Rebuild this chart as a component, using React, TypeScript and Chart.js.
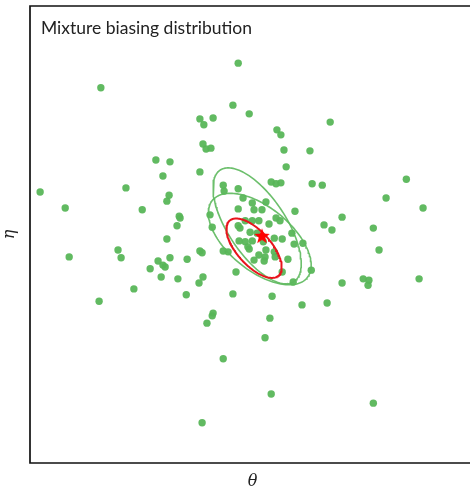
import React, { useEffect, useRef } from "react";
import { Chart, registerables } from "chart.js";

Chart.register(...registerables);

// Samples drawn from the mixture biasing distribution (θ, η)
const thetaSamples = [
  -0.27, -3.39, -0.39, -0.02, -1.14, -1.05, -0.84, 0.61, 0.70, 1.82,
  -1.07, -1.00, -0.89, 0.77, 1.36, -2.14, -1.82, 0.82, -1.14, -1.98,
  0.48, 0.59, 0.70, 1.41, 1.64, 3.55, -4.77, -2.82, -0.61, -0.59,
  -0.27, -1.84, -1.89, -0.16, 0.05, 0.36, 3.09, -4.20, -2.45, -0.27,
  0.09, 0.27, 1.02, 3.93, -0.91, -1.61, -1.59, 0.59, 0.68, 2.09,
  -0.11, 0.05, 0.20, -0.27, -0.23, 0.43, 1.68, -1.66, -0.86, 1.86,
  2.80, 0.00, 0.16, 0.95, -1.89, 0.55, 0.73, -0.25, -0.11, 0.05,
  0.30, 1.00, 1.20, -0.05, -0.02, -3.00, -2.93, -4.11, -1.14, -1.09,
  -0.61, -0.50, 0.36, 2.93, 0.55, 0.57, 0.20, 0.34, -1.82, -1.43,
  -2.09, -1.98, -1.93, 0.09, 0.32, 0.86, -2.27, -0.32, 0.73, 1.39,
  -2.02, -1.64, -1.07, -1.16, 2.57, 2.70, 2.68, 0.98, 2.09, 3.84,
  -2.64, -1.45, -0.39, 0.50, 1.18, 1.75, -3.43, -0.84, -0.86, -0.98,
  0.45, 0.34, -0.61, 0.48, 2.80, -1.09,
];
const etaSamples = [
  3.75, 3.21, 2.83, 2.64, 2.53, 2.40, 2.55, 2.29, 2.18, 2.46,
  1.98, 1.87, 1.89, 1.85, 1.83, 1.63, 1.59, 1.48, 1.37, 1.28,
  1.15, 1.11, 1.13, 1.11, 1.08, 1.21, 0.93, 1.02, 1.08, 0.95,
  1.00, 0.86, 0.73, 0.80, 0.69, 0.71, 0.80, 0.58, 0.54, 0.56,
  0.54, 0.54, 0.51, 0.58, 0.43, 0.40, 0.36, 0.36, 0.30, 0.38,
  0.30, 0.30, 0.30, 0.19, 0.14, 0.23, 0.21, 0.19, 0.16, 0.10,
  0.14, 0.05, 0.03, 0.03, -0.10, -0.08, -0.10, -0.14, -0.16, -0.14,
  -0.16, -0.21, -0.19, -0.27, -0.32, -0.34, -0.51, -0.49, -0.36, -0.40,
  -0.36, -0.38, -0.34, -0.34, -0.38, -0.49, -0.45, -0.49, -0.51, -0.54,
  -0.58, -0.67, -0.71, -0.56, -0.58, -0.54, -0.75, -0.82, -0.82, -0.78,
  -0.93, -0.97, -0.93, -1.06, -0.97, -1.00, -1.11, -1.04, -1.06, -0.97,
  -1.19, -1.32, -1.30, -1.35, -1.54, -1.50, -1.46, -1.72, -1.78, -1.94,
  -1.83, -2.26, -2.72, -3.49, -3.69, -4.12,
];

// Mode of the target (red star)
const modeTheta = [0.27];
const modeEta = [-0.03];

// Covariance ellipses: two mixture components (green) and the target (red)
const ellipseNames = ["component 1", "component 2", "target"];
const ellipseCenterTheta = [0.16, 0.22, 0.09];
const ellipseCenterEta = [0.19, -0.10, -0.30];
const ellipseSemiMajor = [1.48, 1.37, 0.82];
const ellipseSemiMinor = [0.65, 0.70, 0.38];
const ellipseAngleDeg = [-55, -37.4, -46.5];
const ellipseColors = ["rgba(92,184,92,0.9)", "rgba(92,184,92,0.9)", "#e8141c"];
const ellipseWidths = [1.6, 1.6, 2];

const axisRange = { thetaMin: -5, thetaMax: 5.11, etaMin: -5, etaMax: 5 };
const titleText = "Mixture biasing distribution";
const xLabel = "θ";
const yLabel = "η";

function ellipsePoints(i: number) {
  const pts: { x: number; y: number }[] = [];
  const a = ellipseSemiMajor[i];
  const b = ellipseSemiMinor[i];
  const al = (ellipseAngleDeg[i] * Math.PI) / 180;
  const n = 160;
  for (let k = 0; k <= n; k++) {
    const t = (2 * Math.PI * k) / n;
    pts.push({
      x: ellipseCenterTheta[i] + a * Math.cos(t) * Math.cos(al) - b * Math.sin(t) * Math.sin(al),
      y: ellipseCenterEta[i] + a * Math.cos(t) * Math.sin(al) + b * Math.sin(t) * Math.cos(al),
    });
  }
  return pts;
}

function makeStar(): HTMLCanvasElement {
  const c = document.createElement("canvas");
  const s = 18;
  c.width = s;
  c.height = s;
  const ctx = c.getContext("2d")!;
  const R = 8.2;
  const r = 3.4;
  ctx.beginPath();
  for (let k = 0; k < 10; k++) {
    const ang = -Math.PI / 2 + (k * Math.PI) / 5;
    const rad = k % 2 === 0 ? R : r;
    const px = s / 2 + rad * Math.cos(ang);
    const py = s / 2 + 0.6 + rad * Math.sin(ang);
    if (k === 0) ctx.moveTo(px, py);
    else ctx.lineTo(px, py);
  }
  ctx.closePath();
  ctx.fillStyle = "#ff0000";
  ctx.fill();
  return c;
}

const framePlugin = {
  id: "frameAndTitle",
  afterDraw(chart: any) {
    const { ctx, chartArea } = chart;
    ctx.save();
    ctx.strokeStyle = "#111";
    ctx.lineWidth = 1.7;
    ctx.beginPath();
    ctx.moveTo(chartArea.right + 5, chartArea.top);
    ctx.lineTo(chartArea.left, chartArea.top);
    ctx.lineTo(chartArea.left, chartArea.bottom);
    ctx.lineTo(chartArea.right + 5, chartArea.bottom);
    ctx.stroke();
    ctx.fillStyle = "#222";
    ctx.font = "17.5px Lato";
    ctx.textBaseline = "alphabetic";
    ctx.textAlign = "left";
    ctx.fillText(titleText, chartArea.left + 11, chartArea.top + 28);
    ctx.restore();
  },
};

export default function App() {
  const ref = useRef<HTMLCanvasElement>(null);
  useEffect(() => {
    if (!ref.current) return;
    const samples = thetaSamples.map((t, i) => ({ x: t, y: etaSamples[i] }));
    const ellipseSets = ellipseNames.map((name, i) => ({
      type: "line" as const,
      label: name,
      data: ellipsePoints(i),
      borderColor: ellipseColors[i],
      borderWidth: ellipseWidths[i],
      pointRadius: 0,
      fill: false,
      tension: 0,
      order: i === 2 ? 1 : 2 + i,
    }));
    const chart = new Chart(ref.current, {
      type: "scatter",
      data: {
        datasets: [
          {
            label: "mode",
            data: modeTheta.map((t, i) => ({ x: t, y: modeEta[i] })),
            pointStyle: makeStar() as any,
            pointRadius: 9,
            order: 0,
          },
          ...(ellipseSets as any[]),
          {
            label: "samples",
            data: samples,
            backgroundColor: "rgba(88,182,88,0.95)",
            borderWidth: 0,
            pointRadius: 3.7,
            order: 10,
          },
        ],
      },
      options: {
        animation: false,
        responsive: false,
        maintainAspectRatio: false,
        layout: { autoPadding: false, padding: { top: 6, left: 0, right: 0, bottom: 0 } },
        plugins: { legend: { display: false }, tooltip: { enabled: false }, title: { display: false } },
        scales: {
          x: {
            type: "linear",
            min: axisRange.thetaMin,
            max: axisRange.thetaMax,
            grid: { display: false },
            border: { display: false },
            ticks: { display: false },
            title: {
              display: true,
              text: xLabel,
              color: "#222",
              font: { family: "'DejaVu Serif'", style: "italic", size: 16 },
              padding: { top: 0, bottom: 4 },
            },
            afterFit: (s: any) => {
              s.height = 32;
            },
          },
          y: {
            type: "linear",
            min: axisRange.etaMin,
            max: axisRange.etaMax,
            grid: { display: false },
            border: { display: false },
            ticks: { display: false },
            title: {
              display: true,
              text: yLabel,
              color: "#222",
              font: { family: "'DejaVu Serif'", style: "italic", size: 16 },
              padding: { top: 0, bottom: 0 },
            },
            afterFit: (s: any) => {
              s.width = 30;
            },
          },
        },
      },
      plugins: [framePlugin],
    });
    return () => chart.destroy();
  }, []);
  return (
    <div style={{ position: "fixed", left: 0, top: 0, width: 470, height: 487, overflow: "hidden", background: "#fff" }}>
      <canvas ref={ref} width={475} height={495} style={{ display: "block", width: 475, height: 495 }} />
    </div>
  );
}
